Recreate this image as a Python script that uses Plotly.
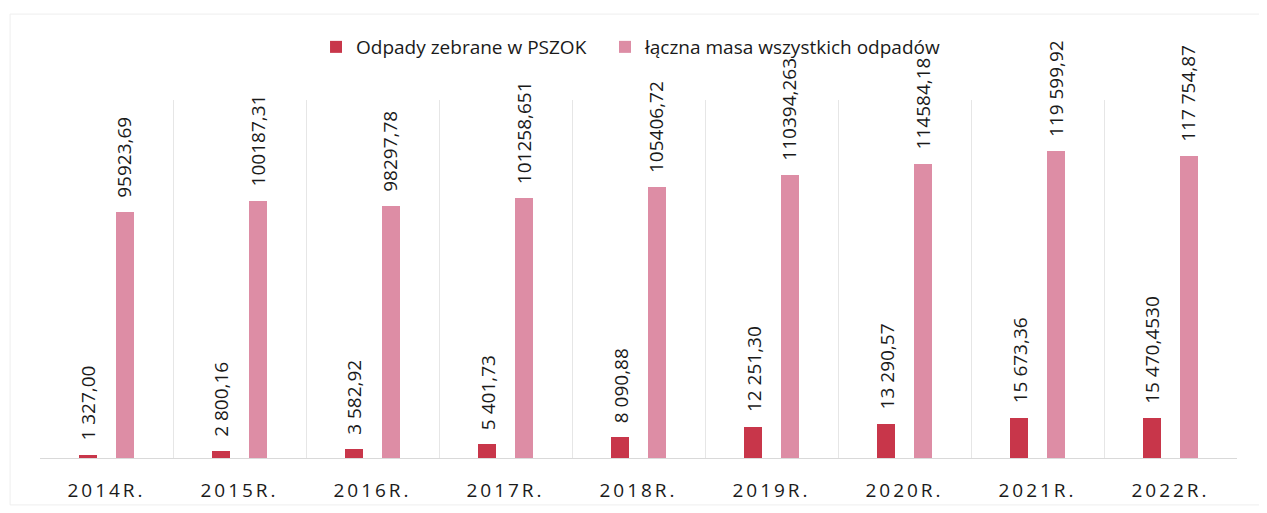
import plotly.graph_objects as go

categories = ["2014R.", "2015R.", "2016R.", "2017R.", "2018R.", "2019R.", "2020R.", "2021R.", "2022R."]
pszok = [1327.00, 2800.16, 3582.92, 5401.73, 8090.88, 12251.30, 13290.57, 15673.36, 15470.4530]
total = [95923.69, 100187.31, 98297.78, 101258.651, 105406.72, 110394.263, 114584.18, 119599.92, 117754.87]
pszok_labels = ["1 327,00", "2 800,16", "3 582,92", "5 401,73", "8 090,88", "12 251,30", "13 290,57", "15 673,36", "15 470,4530"]
total_labels = ["95923,69", "100187,31", "98297,78", "101258,651", "105406,72", "110394,263", "114584,18", "119 599,92", "117 754,87"]
series_names = ["Odpady zebrane w PSZOK", "łączna masa wszystkich odpadów"]

RED = "#C8364A"
PINK = "#DD8DA5"
FONT = "Open Sans"
TXT = "#1a1a1a"

fig = go.Figure()
fig.add_trace(go.Bar(x=categories, y=pszok, name=series_names[0], marker=dict(color=RED, line=dict(width=0)),
                     width=0.136, offset=-0.204, legend="legend"))
fig.add_trace(go.Bar(x=categories, y=total, name=series_names[1], marker=dict(color=PINK, line=dict(width=0)),
                     width=0.136, offset=0.068, legend="legend2"))

for c, v, t in zip(categories, pszok, pszok_labels):
    fig.add_annotation(x=c, y=v, xref="x", yref="y", text=t, showarrow=False, textangle=-90,
                       yanchor="bottom", xanchor="center", xshift=-18, yshift=12,
                       font=dict(family=FONT, size=19, color=TXT))
for c, v, t in zip(categories, total, total_labels):
    fig.add_annotation(x=c, y=v, xref="x", yref="y", text=t, showarrow=False, textangle=-90,
                       yanchor="bottom", xanchor="center", xshift=18, yshift=12,
                       font=dict(family=FONT, size=19, color=TXT))

fig.add_shape(type="rect", xref="paper", yref="paper", x0=-0.025, x1=1.021, y0=-0.131, y1=1.240,
              line=dict(color="#EEEEEE", width=1), fillcolor="rgba(0,0,0,0)", layer="below")

legend_common = dict(orientation="h", y=1.148, yanchor="middle", xanchor="left",
                     font=dict(family=FONT, size=19, color=TXT), itemwidth=30,
                     bgcolor="rgba(0,0,0,0)")

fig.update_layout(
    width=1259, height=505,
    margin=dict(l=32, r=30, t=92, b=55, autoexpand=False),
    paper_bgcolor="white", plot_bgcolor="white",
    font=dict(family=FONT, size=19, color=TXT),
    showlegend=True,
    legend=dict(x=0.2306, **legend_common),
    legend2=dict(x=0.472, **legend_common),
    bargap=0, barmode="overlay",
)
fig.update_xaxes(
    type="category", tickson="boundaries", showgrid=True, gridcolor="#E6E6E6", gridwidth=1,
    showline=True, linecolor="#D9D9D9", linewidth=1, ticks="", automargin=False,
    tickmode="array", tickvals=categories,
    ticktext=[f'<span style="letter-spacing:3px">{c}</span>' for c in categories],
    tickfont=dict(family=FONT, size=19, color=TXT), ticklabelstandoff=15,
)
fig.update_yaxes(range=[0, 139500], showgrid=False, showticklabels=False, zeroline=False,
                 showline=False, automargin=False)

fig.write_html("out.html")
